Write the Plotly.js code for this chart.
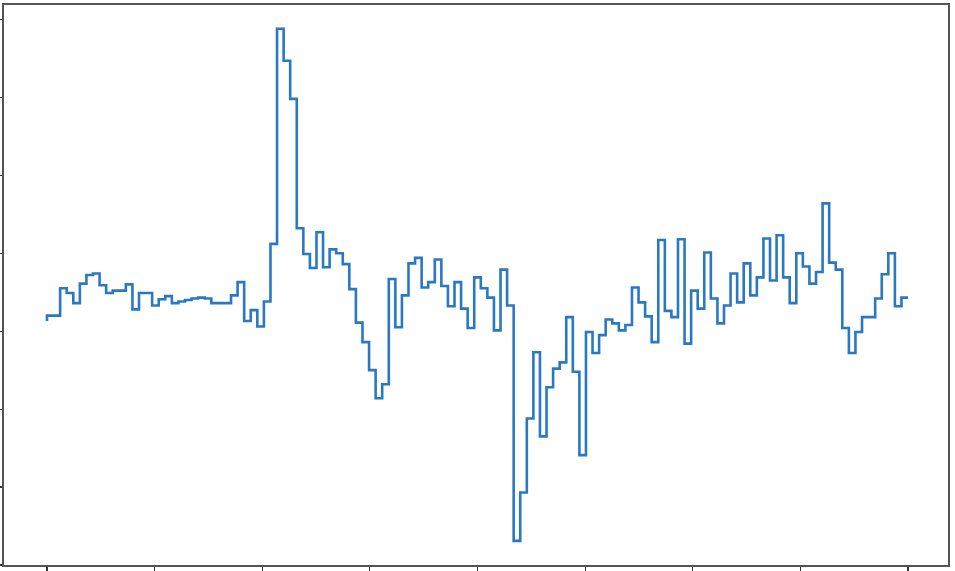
<!DOCTYPE html>
<html>
<head>
<meta charset="utf-8">
<script src="https://cdn.plot.ly/plotly-3.0.1.min.js"></script>
<style>html,body{margin:0;padding:0;background:#fff;}#chart{width:955px;height:571px;}</style>
</head>
<body>
<div id="chart"></div>
<script>
// Step series values (index 0 = starting point)
const seriesValues = [
  -0.87, -0.80, -0.80, -0.45, -0.51, -0.64, -0.39, -0.28, -0.26, -0.41,
  -0.51, -0.48, -0.48, -0.40, -0.72, -0.51, -0.51, -0.67, -0.59, -0.55,
  -0.64, -0.62, -0.60, -0.58, -0.57, -0.58, -0.64, -0.64, -0.64, -0.54,
  -0.37, -0.87, -0.73, -0.94, -0.62, 0.12, 2.88, 2.47, 1.98, 0.32,
  -0.01, -0.19, 0.27, -0.18, 0.05, 0.00, -0.14, -0.46, -0.89, -1.14,
  -1.50, -1.86, -1.68, -0.33, -0.95, -0.54, -0.13, -0.06, -0.44, -0.37,
  -0.08, -0.42, -0.68, -0.37, -0.71, -0.96, -0.31, -0.45, -0.57, -0.99,
  -0.21, -0.67, -3.69, -3.07, -2.12, -1.27, -2.35, -1.72, -1.48, -1.40,
  -0.82, -1.52, -2.59, -1.01, -1.28, -1.05, -0.85, -0.90, -0.99, -0.92,
  -0.44, -0.63, -0.81, -1.14, 0.17, -0.74, -0.82, 0.18, -1.16, -0.48,
  -0.71, 0.01, -0.58, -0.90, -0.67, -0.26, -0.63, -0.13, -0.54, -0.31,
  0.19, -0.35, 0.23, -0.31, -0.64, 0.00, -0.17, -0.39, -0.24, 0.64,
  -0.12, -0.21, -0.96, -1.28, -1.01, -0.82, -0.82, -0.58, -0.27, 0.00,
  -0.68, -0.57
];
// x positions: sample index
const seriesIndex = seriesValues.map((_, i) => i);
const xTickCount = 9;
const yTickVals = [-4, -3, -2, -1, 0, 1, 2, 3];

const nSteps = seriesIndex.length - 1;
const xTickVals = [];
for (let k = 0; k < xTickCount; k++) xTickVals.push(k * nSteps / (xTickCount - 1));

const trace = {
  x: seriesIndex,
  y: seriesValues,
  type: 'scatter',
  mode: 'lines',
  line: {shape: 'vh', color: '#2a78c2', width: 2.6},
  hoverinfo: 'skip'
};

const axisCommon = {
  showgrid: false,
  zeroline: false,
  showticklabels: false,
  ticks: 'outside',
  ticklen: 4,
  tickwidth: 1.2,
  tickcolor: '#333',
  showline: true,
  linecolor: '#555',
  linewidth: 1.6,
  mirror: true
};

const layout = {
  width: 955,
  height: 571,
  margin: {l: 4, r: 7, t: 5, b: 6, pad: 0},
  paper_bgcolor: '#ffffff',
  plot_bgcolor: '#ffffff',
  showlegend: false,
  xaxis: Object.assign({}, axisCommon, {
    range: [-6.54, 137.08],
    tickmode: 'array',
    tickvals: xTickVals
  }),
  yaxis: Object.assign({}, axisCommon, {
    range: [-4.0, 3.185],
    tickmode: 'array',
    tickvals: yTickVals
  })
};

Plotly.newPlot('chart', [trace], layout, {displayModeBar: false, staticPlot: true});
</script>
</body>
</html>
